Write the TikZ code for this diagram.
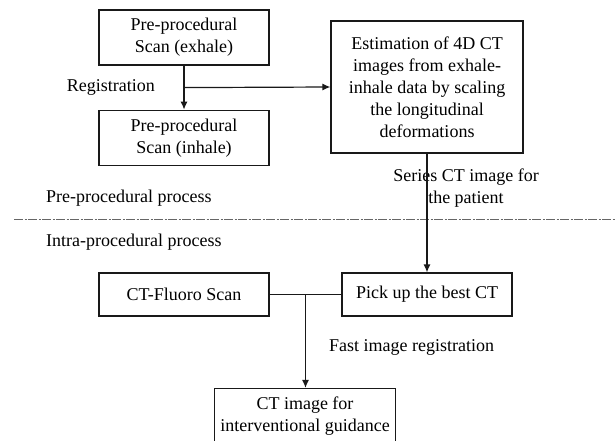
\documentclass[tikz,border=0pt]{standalone}
\usepackage{fontspec}
\setmainfont{Liberation Serif}
\newfontfamily\diagfont{Liberation Serif}
\usetikzlibrary{arrows.meta, positioning, calc}

\begin{document}
\begin{tikzpicture}[
    x=1pt, y=-1pt,
    font=\diagfont\fontsize{18}{22}\selectfont,
    node distance=44pt and 62pt,
    procbox/.style={rectangle, draw=black!90, line width=1.2pt, align=center, inner sep=2pt, minimum width=#1, minimum height=55pt},
    procbox/.default=170pt,
    plainlabel/.style={inner sep=0pt, align=center},
    flowarr/.style={-{Latex[length=8pt, width=7pt]}, line width=1.2pt, color=black!90},
    flowline/.style={line width=1.2pt, color=black!90},
    divider/.style={line width=1pt, color=black!60, dash pattern=on 9pt off 1.5pt on 2pt off 1.5pt}
]
    \useasboundingbox (0,0) rectangle (616,441);

    % Pre-procedural boxes
    \node[procbox] (exhale) at (184,37.5) {Pre-procedural\\Scan (exhale)};
    \node[procbox, below=of exhale] (inhale) {Pre-procedural\\Scan (inhale)};
    \node[procbox=192pt, minimum height=132pt] (estim) at (427,87) {
        Estimation of 4D CT\\
        images from exhale-\\
        inhale data by scaling\\
        the longitudinal\\
        deformations
    };

    % Intra-procedural boxes
    \node[procbox, minimum height=43pt] (fluoro) at (184,294.5) {CT-Fluoro Scan};
    \node[procbox, minimum height=43pt] (pick) at (427,294.5) {Pick up the best CT};
    \node[procbox=181pt] (guide) at (305,416) {CT image for\\interventional guidance};

    % Labels
    \node[plainlabel, anchor=east] (reglabel) at (155,87) {Registration};
    \node[plainlabel] (serieslabel) at (466,188) {Series CT image for\\the patient};
    \node[plainlabel, anchor=west] (prelabel) at (46,198) {Pre-procedural process};
    \node[plainlabel, anchor=west] (intralabel) at (46,242) {Intra-procedural process};
    \node[plainlabel, anchor=west] (fastlabel) at (329,347) {Fast image registration};

    % Divider
    \coordinate (divL) at (14,219);
    \coordinate (divR) at (616,219);
    \draw[divider] (divL) -- (divR);

    % Flow Arrows
    \draw[flowarr] (exhale) -- (inhale);
    \coordinate (regjoin) at ($(exhale.south)!0.5!(inhale.north)$);
    \draw[flowarr] (regjoin) -- (estim.west);
    \draw[flowarr] (estim) -- (pick);
    \draw[flowline] (fluoro) -- (pick);
    \coordinate (fastjoin) at ($(fluoro.east)!0.5!(pick.west)$);
    \draw[flowarr] (fastjoin) -- (fastjoin |- guide.north);

\end{tikzpicture}
\end{document}
